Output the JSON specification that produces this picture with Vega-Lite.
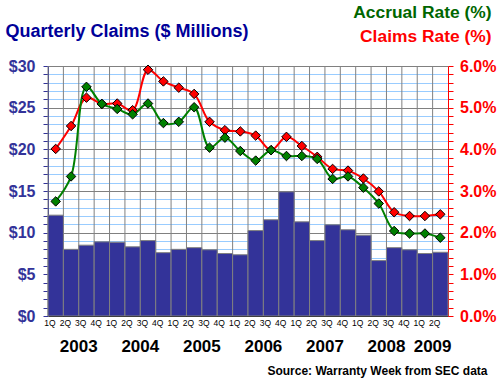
{
  "$schema": "https://vega.github.io/schema/vega-lite/v6.json",
  "width": 400,
  "height": 250,
  "autosize": "none",
  "padding": {"left": 48, "top": 66, "right": 52, "bottom": 71},
  "background": "white",
  "config": {"font": "Liberation Sans", "view": {"stroke": null}},
  "datasets": {
    "quarters": [
      {"t": "2003-1", "claims": 12.1, "accrual": 2.75, "claimsRate": 4.01},
      {"t": "2003-2", "claims": 8.0, "accrual": 3.35, "claimsRate": 4.56},
      {"t": "2003-3", "claims": 8.5, "accrual": 5.50, "claimsRate": 5.24},
      {"t": "2003-4", "claims": 8.9, "accrual": 5.09, "claimsRate": 5.09},
      {"t": "2004-1", "claims": 8.85, "accrual": 4.97, "claimsRate": 5.10},
      {"t": "2004-2", "claims": 8.3, "accrual": 4.84, "claimsRate": 4.94},
      {"t": "2004-3", "claims": 9.05, "accrual": 5.10, "claimsRate": 5.91},
      {"t": "2004-4", "claims": 7.6, "accrual": 4.63, "claimsRate": 5.63},
      {"t": "2005-1", "claims": 8.0, "accrual": 4.66, "claimsRate": 5.48},
      {"t": "2005-2", "claims": 8.2, "accrual": 5.01, "claimsRate": 5.33},
      {"t": "2005-3", "claims": 7.95, "accrual": 4.04, "claimsRate": 4.66},
      {"t": "2005-4", "claims": 7.5, "accrual": 4.28, "claimsRate": 4.46},
      {"t": "2006-1", "claims": 7.35, "accrual": 3.96, "claimsRate": 4.43},
      {"t": "2006-2", "claims": 10.25, "accrual": 3.73, "claimsRate": 4.33},
      {"t": "2006-3", "claims": 11.55, "accrual": 3.98, "claimsRate": 3.98},
      {"t": "2006-4", "claims": 14.9, "accrual": 3.84, "claimsRate": 4.30},
      {"t": "2007-1", "claims": 11.3, "accrual": 3.84, "claimsRate": 4.08},
      {"t": "2007-2", "claims": 9.05, "accrual": 3.77, "claimsRate": 3.82},
      {"t": "2007-3", "claims": 10.95, "accrual": 3.29, "claimsRate": 3.53},
      {"t": "2007-4", "claims": 10.35, "accrual": 3.35, "claimsRate": 3.49},
      {"t": "2008-1", "claims": 9.7, "accrual": 3.08, "claimsRate": 3.30},
      {"t": "2008-2", "claims": 6.65, "accrual": 2.70, "claimsRate": 2.99},
      {"t": "2008-3", "claims": 8.2, "accrual": 2.04, "claimsRate": 2.49},
      {"t": "2008-4", "claims": 7.95, "accrual": 1.98, "claimsRate": 2.40},
      {"t": "2009-1", "claims": 7.5, "accrual": 1.98, "claimsRate": 2.40},
      {"t": "2009-2", "claims": 7.65, "accrual": 1.88, "claimsRate": 2.44}
    ],
    "years": [
      {"t": "2003-3", "year": "2003"},
      {"t": "2004-3", "year": "2004"},
      {"t": "2005-3", "year": "2005"},
      {"t": "2006-3", "year": "2006"},
      {"t": "2007-3", "year": "2007"},
      {"t": "2008-3", "year": "2008"},
      {"t": "2009-2", "year": "2009"}
    ]
  },
  "resolve": {"scale": {"y": "independent"}, "axis": {"y": "independent"}},
  "layer": [
    {
      "data": {"name": "quarters"},
      "mark": {"type": "rule", "color": "#808080", "strokeWidth": 1},
      "encoding": {
        "x": {"field": "t", "type": "ordinal", "bandPosition": 0}
      }
    },
    {
      "data": {"name": "quarters"},
      "mark": {"type": "bar", "fill": "#333399", "stroke": "#808080", "strokeWidth": 1},
      "encoding": {
        "x": {
          "field": "t", "type": "ordinal",
          "scale": {"paddingInner": 0, "paddingOuter": 0},
          "axis": {
            "grid": false, "ticks": false,
            "labelExpr": "slice(datum.value, 5) + 'Q'", "labelAngle": 0, "labelFontSize": 8.5,
            "labelColor": "black", "domainColor": "black", "labelPadding": 6.5,
            "title": "Source: Warranty Week from SEC data", "titleX": 439, "titleY": 58,
            "titleAlign": "right", "titleBaseline": "alphabetic", "titleFontSize": 12,
            "titleFontWeight": "bold", "titleColor": "black"
          }
        },
        "y": {
          "field": "claims", "type": "quantitative",
          "scale": {"domain": [0, 30], "nice": false},
          "axis": {
            "values": [0,1,2,3,4,5,6,7,8,9,10,11,12,13,14,15,16,17,18,19,20,21,22,23,24,25,26,27,28,29,30],
            "grid": true,
            "gridColor": {"condition": {"test": "datum.value % 5 === 0", "value": "#808080"}, "value": "#99ccff"},
            "tickSize": 5, "tickColor": "#333399", "domainColor": "#333399",
            "labelExpr": "datum.value % 5 === 0 ? '$' + datum.value : ''",
            "labelFontSize": 16, "labelFontWeight": "bold", "labelColor": "#333399",
            "labelPadding": 8, "labelOverlap": false,
            "title": "Quarterly Claims ($ Millions)", "titleAngle": 0, "titleX": -43, "titleY": -30,
            "titleAlign": "left", "titleBaseline": "alphabetic", "titleFontSize": 18,
            "titleFontWeight": "bold", "titleColor": "#000099"
          }
        }
      }
    },
    {
      "data": {"name": "years"},
      "mark": {"type": "text", "fontSize": 17, "fontWeight": "bold", "color": "black", "baseline": "alphabetic", "align": "center", "dy": 36},
      "encoding": {
        "x": {"field": "t", "type": "ordinal", "bandPosition": 0},
        "y": {"datum": 0, "type": "quantitative", "scale": {"domain": [0, 30], "nice": false}, "axis": null},
        "text": {"field": "year"}
      }
    },
    {
      "data": {"name": "quarters"},
      "mark": {"type": "line", "color": "#ff0000", "strokeWidth": 2, "interpolate": "catmull-rom"},
      "encoding": {
        "x": {"field": "t", "type": "ordinal"},
        "y": {
          "field": "claimsRate", "type": "quantitative",
          "scale": {"domain": [0, 6], "nice": false},
          "axis": {
            "orient": "right",
            "values": [0,0.2,0.4,0.6,0.8,1,1.2,1.4,1.6,1.8,2,2.2,2.4,2.6,2.8,3,3.2,3.4,3.6,3.8,4,4.2,4.4,4.6,4.8,5,5.2,5.4,5.6,5.8,6],
            "grid": false, "tickSize": 5, "tickColor": "#ff0000", "domainColor": "#ff0000",
            "labelExpr": "abs(datum.value - round(datum.value)) < 0.01 ? format(datum.value, '.1f') + '%' : ''",
            "labelFontSize": 16, "labelFontWeight": "bold", "labelColor": "#ff0000",
            "labelPadding": 6.5, "labelOverlap": false,
            "title": "Claims Rate (%)", "titleAngle": 0, "titleX": 43, "titleY": -24.5,
            "titleAlign": "right", "titleBaseline": "alphabetic", "titleFontSize": 17.4,
            "titleFontWeight": "bold", "titleColor": "#ff0000"
          }
        }
      }
    },
    {
      "data": {"name": "quarters"},
      "mark": {"type": "line", "color": "#008000", "strokeWidth": 2, "interpolate": "catmull-rom"},
      "encoding": {
        "x": {"field": "t", "type": "ordinal"},
        "y": {
          "field": "accrual", "type": "quantitative",
          "scale": {"domain": [0, 6], "nice": false},
          "axis": {
            "orient": "right", "domain": false, "ticks": false, "labels": false, "grid": false,
            "title": "Accrual Rate (%)", "titleAngle": 0, "titleX": 43, "titleY": -49,
            "titleAlign": "right", "titleBaseline": "alphabetic", "titleFontSize": 17.4,
            "titleFontWeight": "bold", "titleColor": "#006600"
          }
        }
      }
    },
    {
      "data": {"name": "quarters"},
      "mark": {"type": "point", "shape": "diamond", "filled": true, "fill": "#ff0000", "stroke": "black", "strokeWidth": 1, "size": 90, "opacity": 1},
      "encoding": {
        "x": {"field": "t", "type": "ordinal"},
        "y": {"field": "claimsRate", "type": "quantitative", "scale": {"domain": [0, 6], "nice": false}, "axis": null}
      }
    },
    {
      "data": {"name": "quarters"},
      "mark": {"type": "point", "shape": "diamond", "filled": true, "fill": "#008000", "stroke": "black", "strokeWidth": 1, "size": 90, "opacity": 1},
      "encoding": {
        "x": {"field": "t", "type": "ordinal"},
        "y": {"field": "accrual", "type": "quantitative", "scale": {"domain": [0, 6], "nice": false}, "axis": null}
      }
    }
  ]
}
